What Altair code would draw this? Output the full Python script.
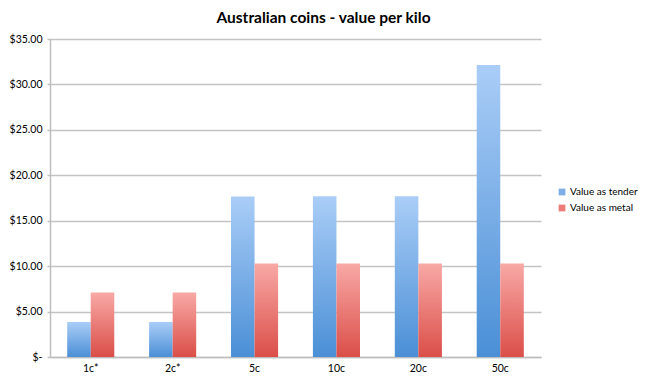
import altair as alt
import pandas as pd

coins = ["1c*", "2c*", "5c", "10c", "20c", "50c"]
series = ["Value as tender", "Value as metal"]
tender = [3.85, 3.85, 17.67, 17.70, 17.70, 32.15]
metal = [7.1, 7.1, 10.3, 10.3, 10.3, 10.3]

rows = []
for c, t, m in zip(coins, tender, metal):
    rows.append({"coin": c, "series": series[0], "value": t})
    rows.append({"coin": c, "series": series[1], "value": m})
df = pd.DataFrame(rows)

blue_grad = {"gradient": "linear", "x1": 0, "y1": 0, "x2": 0, "y2": 1,
             "stops": [{"offset": 0, "color": "#AACDF7"}, {"offset": 1, "color": "#4A8FD6"}]}
red_grad = {"gradient": "linear", "x1": 0, "y1": 0, "x2": 0, "y2": 1,
            "stops": [{"offset": 0, "color": "#F8A9A6"}, {"offset": 1, "color": "#DB4E48"}]}

FONT = "Lato"

x = alt.X("coin:N", sort=coins, title=None,
          scale=alt.Scale(paddingInner=0.425, paddingOuter=0.21),
          axis=alt.Axis(labelAngle=0, ticks=False, labelPadding=6, labelFontSize=10.5,
                        labelColor="#000000", labelFont=FONT, domainColor="#BEBEBE",
                        domainWidth=1.5))
xo = alt.XOffset("series:N", sort=series, scale=alt.Scale(paddingInner=0, paddingOuter=0))
y = alt.Y("value:Q", title=None,
          scale=alt.Scale(domain=[0, 35], nice=False),
          axis=alt.Axis(values=[0, 5, 10, 15, 20, 25, 30, 35],
                        labelExpr="datum.value == 0 ? '$-' : '$' + format(datum.value, '.2f')",
                        labelFontSize=10.5, labelColor="#000000", labelFont=FONT,
                        labelPadding=5, tickSize=3, tickColor="#BEBEBE", tickWidth=1.5,
                        domainColor="#BEBEBE", domainWidth=1.5,
                        gridColor="#C4C4C4", gridWidth=1.5))

bars = alt.Chart(df).mark_bar().encode(
    x=x, xOffset=xo, y=y,
    fill=alt.condition(alt.datum.series == series[0], alt.value(blue_grad), alt.value(red_grad)),
)

legend_layer = alt.Chart(df).mark_bar(opacity=0).encode(
    x=x, xOffset=xo, y=y,
    color=alt.Color("series:N", sort=series,
                    scale=alt.Scale(domain=series, range=["#7FAEE6", "#EE7B77"]),
                    legend=alt.Legend(title=None, orient="none", legendX=507, legendY=148,
                                      symbolType="square", symbolSize=45, symbolOpacity=1,
                                      labelFontSize=10, labelFont=FONT, labelColor="#000000",
                                      rowPadding=6, labelOffset=3)),
)

chart = alt.layer(legend_layer, bars).properties(
    width=491, height=318,
    title=alt.TitleParams("Australian coins - value per kilo", font=FONT, fontSize=15.5,
                          fontWeight="bold", color="#000000", anchor="middle", dx=28, offset=8),
    autosize=alt.AutoSizeParams(type="none"),
    padding={"left": 42, "top": 31, "right": 100, "bottom": 30},
).configure_view(stroke=None)

chart.save("out.html", embed_options={"renderer": "svg", "actions": False})
